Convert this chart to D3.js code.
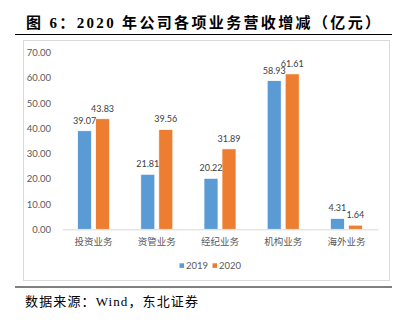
<!DOCTYPE html>
<html><head><meta charset="utf-8">
<script src="https://cdn.jsdelivr.net/npm/d3@7"></script>
<style>
html,body{margin:0;padding:0;background:#fff;}
svg{display:block;}
</style></head>
<body>
<svg id="c" width="404" height="321"></svg>
<script>
const categories = ["投资业务", "资管业务", "经纪业务", "机构业务", "海外业务"];
const seriesNames = ["2019", "2020"];
const values2019 = [39.07, 21.81, 20.22, 58.93, 4.31];
const values2020 = [43.83, 39.56, 31.89, 61.61, 1.64];
const yTicks = [0, 10, 20, 30, 40, 50, 60, 70];
const colors = ["#5B9BD5", "#ED7D31"];

const svg = d3.select("#c");
const labelFont = "Lato, 'Noto Sans CJK SC', sans-serif";
const serifFont = "'Liberation Serif', 'Noto Sans CJK SC', serif";

// Title
svg.append("text").attr("x", 26).attr("y", 28)
  .attr("font-family", serifFont).attr("font-weight", "bold").attr("font-size", 15)
  .attr("fill", "#000").attr("textLength", 354).attr("lengthAdjust", "spacing")
  .text("图 6：2020 年公司各项业务营收增减（亿元）");
svg.append("line").attr("x1", 15).attr("x2", 392).attr("y1", 34.5).attr("y2", 34.5)
  .attr("stroke", "#000").attr("stroke-width", 1);

// chart box
svg.append("rect").attr("x", 23.5).attr("y", 40.5).attr("width", 366).attr("height", 240)
  .attr("fill", "#fff").attr("stroke", "#d9d9d9").attr("stroke-width", 1);

const x0 = d3.scaleBand().domain(categories).range([62, 378]).paddingInner(0).paddingOuter(0);
const x1 = d3.scaleBand().domain(seriesNames).range([0, x0.bandwidth()]).paddingInner(0.22).paddingOuter(0.866);
const y = d3.scaleLinear().domain([0, 70]).range([229.3, 52.7]);

// y axis labels
const yAxis = d3.axisLeft(y).tickValues(yTicks).tickFormat(d3.format(".2f")).tickSize(0).tickPadding(0);
const gy = svg.append("g").attr("transform", "translate(51,0)").call(yAxis);
gy.select(".domain").remove();
gy.selectAll("text").attr("font-family", labelFont).attr("font-size", 9.5).attr("fill", "#595959");

// bars
const data = categories.map((c, i) => ({c, vals: [values2019[i], values2020[i]]}));
const groups = svg.append("g").selectAll("g").data(data).join("g")
  .attr("transform", d => `translate(${x0(d.c)},0)`);
groups.selectAll("rect").data(d => d.vals.map((v, j) => ({v, s: seriesNames[j], j})))
  .join("rect")
  .attr("x", d => x1(d.s)).attr("width", x1.bandwidth())
  .attr("y", d => y(d.v)).attr("height", d => y(0) - y(d.v))
  .attr("fill", d => colors[d.j]).attr("stroke", "#fff").attr("stroke-width", 0.75);
groups.selectAll("text").data(d => d.vals.map((v, j) => ({v, s: seriesNames[j], j})))
  .join("text")
  .attr("x", d => x1(d.s) + x1.bandwidth() / 2).attr("y", d => y(d.v) - 7)
  .attr("text-anchor", "middle").attr("font-family", labelFont).attr("font-size", 9)
  .attr("fill", "#404040").text(d => d3.format(".2f")(d.v));

// x axis
const xAxis = d3.axisBottom(x0).tickSize(0).tickPadding(9);
const gx = svg.append("g").attr("transform", `translate(0,${y(0)})`).call(xAxis);
gx.select(".domain").attr("stroke", "#d9d9d9");
gx.selectAll("text").attr("font-family", "'Noto Sans CJK SC', sans-serif").attr("font-size", 9.5).attr("fill", "#595959");

// legend
const legend = svg.append("g");
const legX = [179.5, 212.5];
seriesNames.forEach((s, i) => {
  legend.append("rect").attr("x", legX[i]).attr("y", 263.3).attr("width", 4.6).attr("height", 4.6).attr("fill", colors[i]);
  legend.append("text").attr("x", legX[i] + 6.5).attr("y", 269.3)
    .attr("font-family", labelFont).attr("font-size", 9.5).attr("fill", "#595959").text(s);
});

// footer
svg.append("line").attr("x1", 15).attr("x2", 392).attr("y1", 287).attr("y2", 287)
  .attr("stroke", "#000").attr("stroke-width", 1);
svg.append("text").attr("x", 25).attr("y", 306)
  .attr("font-family", serifFont).attr("font-size", 13)
  .attr("fill", "#000").attr("textLength", 173).attr("lengthAdjust", "spacing")
  .text("数据来源：Wind，东北证券");
</script>
</body></html>
